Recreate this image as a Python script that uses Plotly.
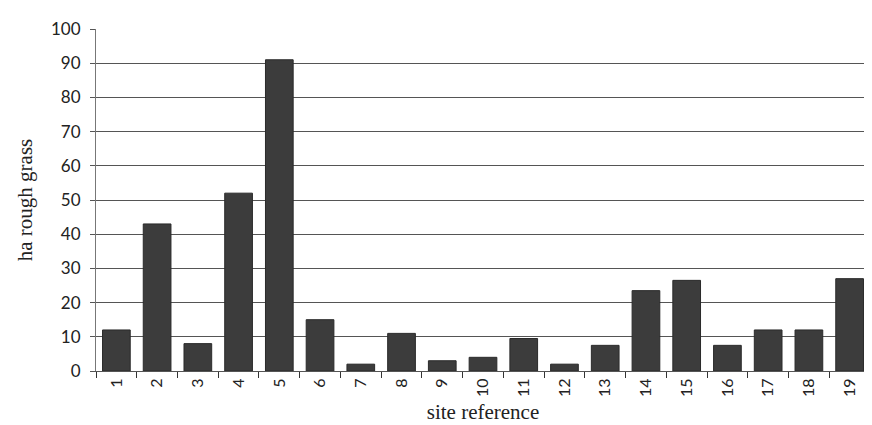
import plotly.graph_objects as go

sites = [str(i) for i in range(1, 20)]
rough_grass_ha = [12, 43, 8, 52, 91, 15, 2, 11, 3, 4, 9.5, 2, 7.5, 23.5, 26.5, 7.5, 12, 12, 27]
y_ticks = list(range(0, 101, 10))

fig = go.Figure()
fig.add_trace(go.Bar(
    x=sites, y=rough_grass_ha,
    marker=dict(color="#3c3c3c", line=dict(color="#2a2a2a", width=1)),
    width=0.68,
))

fig.update_layout(
    width=872, height=425,
    margin=dict(l=88, r=10, t=21, b=62),
    paper_bgcolor="white", plot_bgcolor="white",
    showlegend=False,
    font=dict(family="Lato, 'Noto Sans', sans-serif", color="#222"),
    xaxis=dict(
        type="category",
        tickangle=-90,
        tickson="boundaries",
        ticks="outside", ticklen=6, tickcolor="#333",
        tickfont=dict(size=16, family="Lato, 'Noto Sans', sans-serif"),
        showline=True, linecolor="#555", linewidth=1,
        showgrid=False,
        title=dict(text="site reference", font=dict(size=21, family="'Liberation Serif', 'DejaVu Serif', serif"), standoff=8),
    ),
    yaxis=dict(
        range=[0, 100],
        tickvals=y_ticks,
        ticks="outside", ticklen=5, tickcolor="#555",
        ticklabelstandoff=6,
        tickfont=dict(size=17, family="Lato, 'Noto Sans', sans-serif"),
        showline=True, linecolor="#777", linewidth=1,
        showgrid=True, gridcolor="#555", gridwidth=1,
        zeroline=False,
        title=dict(text="ha rough grass", font=dict(size=21, family="'Liberation Serif', 'DejaVu Serif', serif"), standoff=12),
    ),
)

fig.write_html("out.html")
